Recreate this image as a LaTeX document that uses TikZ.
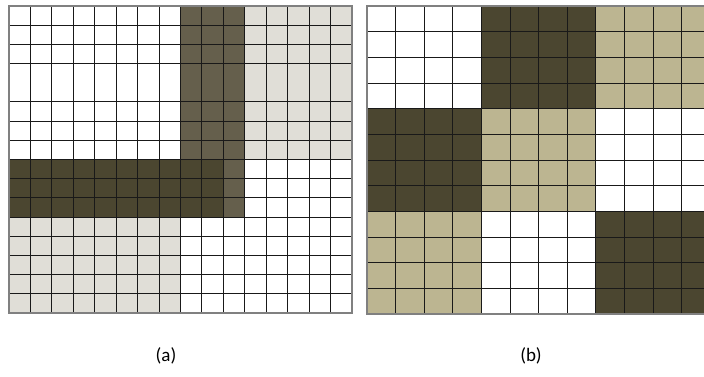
\documentclass[tikz,border=0pt]{standalone}
\usepackage{fontspec}
\setmainfont{Carlito}
\definecolor{darkband}{HTML}{4B4630}
\definecolor{midband}{HTML}{655F4C}
\definecolor{paleA}{HTML}{E0DED7}
\definecolor{tanB}{HTML}{BCB591}
\tikzset{
  gridline/.style={draw=black!90, line width=0.9pt},
  gridborder/.style={draw=black!50, line width=1.6pt},
  caption/.style={font=\fontsize{19}{22}\selectfont, inner sep=0pt}
}
\begin{document}
\begin{tikzpicture}[x=1pt,y=-1pt]
\useasboundingbox (0,0) rectangle (704,377);
\begin{scope}
\clip (0,0) rectangle (704,377);
% ---------- grid (a) ----------
\def\ax{9}\def\ay{6}\def\acw{21.4375}\def\arh{19.1875}
\fill[paleA] (\ax+11*\acw,\ay) rectangle (\ax+16*\acw,\ay+8*\arh);
\fill[midband] (\ax+8*\acw,\ay) rectangle (\ax+11*\acw,\ay+11*\arh);
\fill[darkband] (\ax,\ay+8*\arh) rectangle (\ax+10*\acw,\ay+11*\arh);
\fill[paleA] (\ax,\ay+11*\arh) rectangle (\ax+8*\acw,\ay+16*\arh);
\foreach \i in {1,...,15}
  \draw[gridline] (\ax+\i*\acw,\ay) -- (\ax+\i*\acw,\ay+16*\arh);
\foreach \j in {1,2,3,5,6,7,8,9,10,11,12,13,14,15}
  \draw[gridline] (\ax,\ay+\j*\arh) -- (\ax+16*\acw,\ay+\j*\arh);
\draw[gridborder] (\ax,\ay) rectangle (\ax+16*\acw,\ay+16*\arh);
% ---------- grid (b) ----------
\def\bx{367}\def\by{6}\def\bcw{28.6}\def\brh{25.667}
\foreach \r/\c/\col in {0/1/darkband,0/2/tanB,1/0/darkband,1/1/tanB,2/0/tanB,2/2/darkband}
  \fill[\col] (\bx+4*\c*\bcw,\by+4*\r*\brh) rectangle ++(4*\bcw,4*\brh);
\foreach \i in {1,...,11}
  \draw[gridline] (\bx+\i*\bcw,\by) -- (\bx+\i*\bcw,\by+12*\brh);
\foreach \j in {1,...,11}
  \draw[gridline] (\bx,\by+\j*\brh) -- (\bx+12*\bcw,\by+\j*\brh);
\draw[gridborder] (\bx,\by) rectangle (\bx+12*\bcw,\by+12*\brh);
\end{scope}
% ---------- captions ----------
\node[caption] (capa) at (166,356) {(a)};
\node[caption] (capb) at (531,356) {(b)};
\end{tikzpicture}
\end{document}
